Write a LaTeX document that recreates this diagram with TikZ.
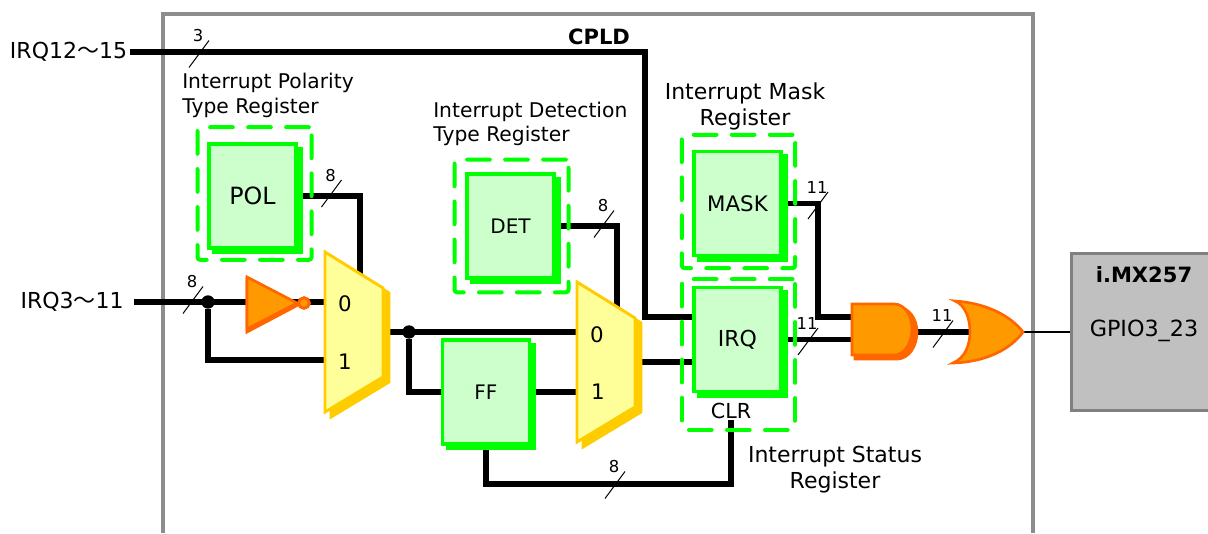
\documentclass[tikz,border=0pt]{standalone}
\usepackage{fontspec}
\setmainfont{DejaVu Sans}
\newfontfamily\cjk{Noto Sans CJK JP}
\usepackage{xcolor}
\usetikzlibrary{shadows,backgrounds}
\definecolor{reggreen}{HTML}{00FF00}
\definecolor{regfill}{HTML}{CCFFCC}
\definecolor{muxline}{HTML}{FFCC00}
\definecolor{muxfill}{HTML}{FFFF99}
\definecolor{gateline}{HTML}{FF6600}
\definecolor{gatefill}{HTML}{FF9900}
\definecolor{chipline}{HTML}{808080}
\definecolor{chipfill}{HTML}{C0C0C0}
\newcommand{\fs}[1]{\fontsize{#1}{18.4pt}\selectfont}

\begin{document}
\begin{tikzpicture}[x=0.75pt,y=-0.75pt,
  wire/.style={line width=4.2pt},
  tick/.style={line width=0.75pt},
  dotn/.style={circle,fill=black,minimum size=10pt,inner sep=0pt},
  reg/.style={draw=reggreen,fill=regfill,line width=2.6pt,minimum width=65.5pt,minimum height=78pt,inner sep=0pt,
    copy shadow={draw=reggreen,fill=reggreen,shadow xshift=3.8pt,shadow yshift=-3.2pt}},
  grp/.style={draw=reggreen,line width=3pt,rounded corners=2pt,line cap=round,dash pattern=on 17pt off 11.5pt,inner sep=0pt},
  muxbody/.style={draw=muxline,fill=muxfill,line width=2.2pt},
  muxshade/.style={draw=muxline,fill=muxline,line width=2.2pt},
  gate/.style={draw=gateline,fill=gatefill,line width=2pt},
  gateshade/.style={draw=gateline,fill=gateline,line width=2pt},
  lbl/.style={inner sep=0pt,font=\fs{15.2pt}}]
\useasboundingbox (0,0) rectangle (1208,533);
\begin{scope}[on background layer]
\coordinate (cpa) at (163,533);
\coordinate (cpb) at (163,14);
\coordinate (cpc) at (1033,14);
\coordinate (cpd) at (1033,533);
\draw[draw=chipline!90,line width=2.3pt] (cpa)--(cpb)--(cpc)--(cpd);
\end{scope}
\node[font=\bfseries\fs{15.8pt},inner sep=0pt] (cpld) at (599,37) {CPLD};

% registers
\node[reg,font=\fs{17.8pt}] (pol) at (252.5,196) {POL};
\node[reg,font=\fs{15pt}] (det) at (510.5,226) {DET};
\node[reg,font=\fs{16pt}] (mask) at (737.5,203.5) {MASK};
\node[reg,font=\fs{16.5pt}] (irq) at (737.5,339.5) {IRQ};
\node[reg,font=\fs{15pt}] (ff) at (486,392) {FF};

% muxes
\draw[muxshade] (331,257)--(389,293)--(389,382)--(331,417)--cycle;
\draw[muxbody] (325,252)--(383,288)--(383,377)--(325,412)--cycle;
\draw[muxshade] (583,287)--(641,323)--(641,412)--(583,447)--cycle;
\draw[muxbody] (577,282)--(635,318)--(635,407)--(577,442)--cycle;
\node[lbl,font=\fs{16pt}] (ma0) at (345,304) {0};
\node[lbl,font=\fs{16pt}] (ma1) at (345,362) {1};
\node[lbl,font=\fs{16pt}] (mb0) at (597,335) {0};
\node[lbl,font=\fs{16pt}] (mb1) at (598,392) {1};

% inverter
\draw[gateshade,line join=miter] (247,280)--(247,332)--(298,305)--cycle;
\draw[gate,line join=miter] (247,277)--(247,329)--(297,303)--cycle;
\node[circle,draw=gateline,fill=gatefill,line width=2.2pt,minimum size=8pt,inner sep=0pt] (invb) at (304,303) {};

% and, or
\draw[gateshade] (855,307)--(897,307) .. controls (909,307) and (917,319) .. (917,332) .. controls (917,346) and (909,359) .. (897,359)--(855,359)--cycle;
\draw[gate] (852,304)--(894,304) .. controls (905,304) and (912,316) .. (912,329) .. controls (912,342) and (905,355) .. (894,355)--(852,355)--cycle;
\draw[gate] (955,301) .. controls (985,303) and (1010,315) .. (1023,332) .. controls (1010,350) and (985,362) .. (953,363) .. controls (965,358) and (970,345) .. (970,332) .. controls (970,318) and (965,305) .. (955,301)--cycle;

% cpu side
\node[draw=chipline,fill=chipfill,line width=2.6pt,minimum width=106pt,minimum height=118pt,inner sep=0pt] (mcu) at (1142,332) {};
\node[font=\bfseries\fs{15.8pt},inner sep=0pt] (mcuname) at (1144,275) {i.MX257};
\node[font=\fs{16.7pt},inner sep=0pt] (gpio) at (1144,331) {GPIO3\_23};

% groups drawn over the wires
\node[grp,minimum width=85.5pt,minimum height=99.5pt] (polg) at (254.5,193.5) {};
\node[grp,minimum width=85.5pt,minimum height=99.5pt] (detg) at (511.5,226) {};
\node[grp,minimum width=85pt,minimum height=100pt] (maskg) at (738.5,201.5) {};
\node[grp,minimum width=85pt,minimum height=113pt] (irqg) at (738.5,354.5) {};

% texts
\node[lbl,anchor=east,inner xsep=2pt,font=\fs{16.5pt}] (irqhi) at (130,52) {IRQ12{\cjk ～}15};
\node[lbl,anchor=east,inner xsep=7.5pt,font=\fs{16.5pt}] (irqlo) at (134,302) {IRQ3{\cjk ～}11};
\node[lbl,anchor=west,align=left] (poltxt) at (182,95.5) {Interrupt Polarity\\Type Register};
\node[lbl,anchor=west,align=left] (dettxt) at (433,124) {Interrupt Detection\\Type Register};
\node[lbl,align=center,font=\fs{16.5pt}] (masktxt) at (745,106.5) {Interrupt Mask\\[1pt]Register};
\node[lbl,align=center,font=\fs{16.5pt}] (stattxt) at (835,469.5) {Interrupt Status\\[1pt]Register};
\node[lbl,font=\fs{15.5pt}] (clr) at (731,411) {CLR};

% wires
\coordinate (turna) at (645,317);
\coordinate (turnb) at (818,317);
\coordinate (polin) at (360,280);
\coordinate (detin) at (617,310);
\coordinate (mai0) at (325,302);
\coordinate (mai1) at (325,360);
\coordinate (mao) at (385,332);
\coordinate (mbi0) at (577,332);
\coordinate (mbi1) at (577,392);
\coordinate (mbo) at (637,362);
\coordinate (ffb) at (486,484);
\coordinate (clrin) at (731,420);
\coordinate (andup) at (853,317);
\coordinate (andlo) at (853,339.5);
\coordinate (andout) at (910,332);
\coordinate (orin) at (972,332);
\coordinate (orout) at (1023,332);
\node[dotn] (ja) at (208,302) {};
\node[dotn] (jb) at (409,332) {};
\begin{scope}[on background layer]
\draw[wire] (irqhi.east) -| (turna) -- (turna -| irq.west);
\draw[wire] (irqlo.east) -- (mai0);
\draw[wire] (ja) |- (mai1);
\draw[wire] (pol.east) -| (polin);
\draw[wire] (det.east) -| (detin);
\draw[wire] (mao) -- (mbi0);
\draw[wire] (jb) |- (ff.west);
\draw[wire] (ff.east) -- (mbi1);
\draw[wire] (ff.south) -- (ffb) -| (clrin);
\draw[wire] (mbo) -- (mbo -| irq.west);
\draw[wire] (mask.east) -| (turnb) -- (andup);
\draw[wire] (irq.east) -- (andlo);
\draw[wire] (andout) -- (orin);
\draw[line width=1.5pt] (orout) -- (mcu.west);
\end{scope}

% bus width marks
\foreach \x/\y/\t [count=\i] in {199/54/3,331.5/193.5/8,193/300/8,604/224/8,818/205.5/11,808/341.5/11,943/334/11,615/485/8} {
  \coordinate (ta\i) at (\x-10,\y+13.5);
  \coordinate (tb\i) at (\x+10,\y-13.5);
  \draw[tick] (ta\i)--(tb\i);
  \node[inner sep=0pt,font=\fs{12.3pt}] (tl\i) at (\x-1,\y-18) {\t};
}
\end{tikzpicture}
\end{document}
